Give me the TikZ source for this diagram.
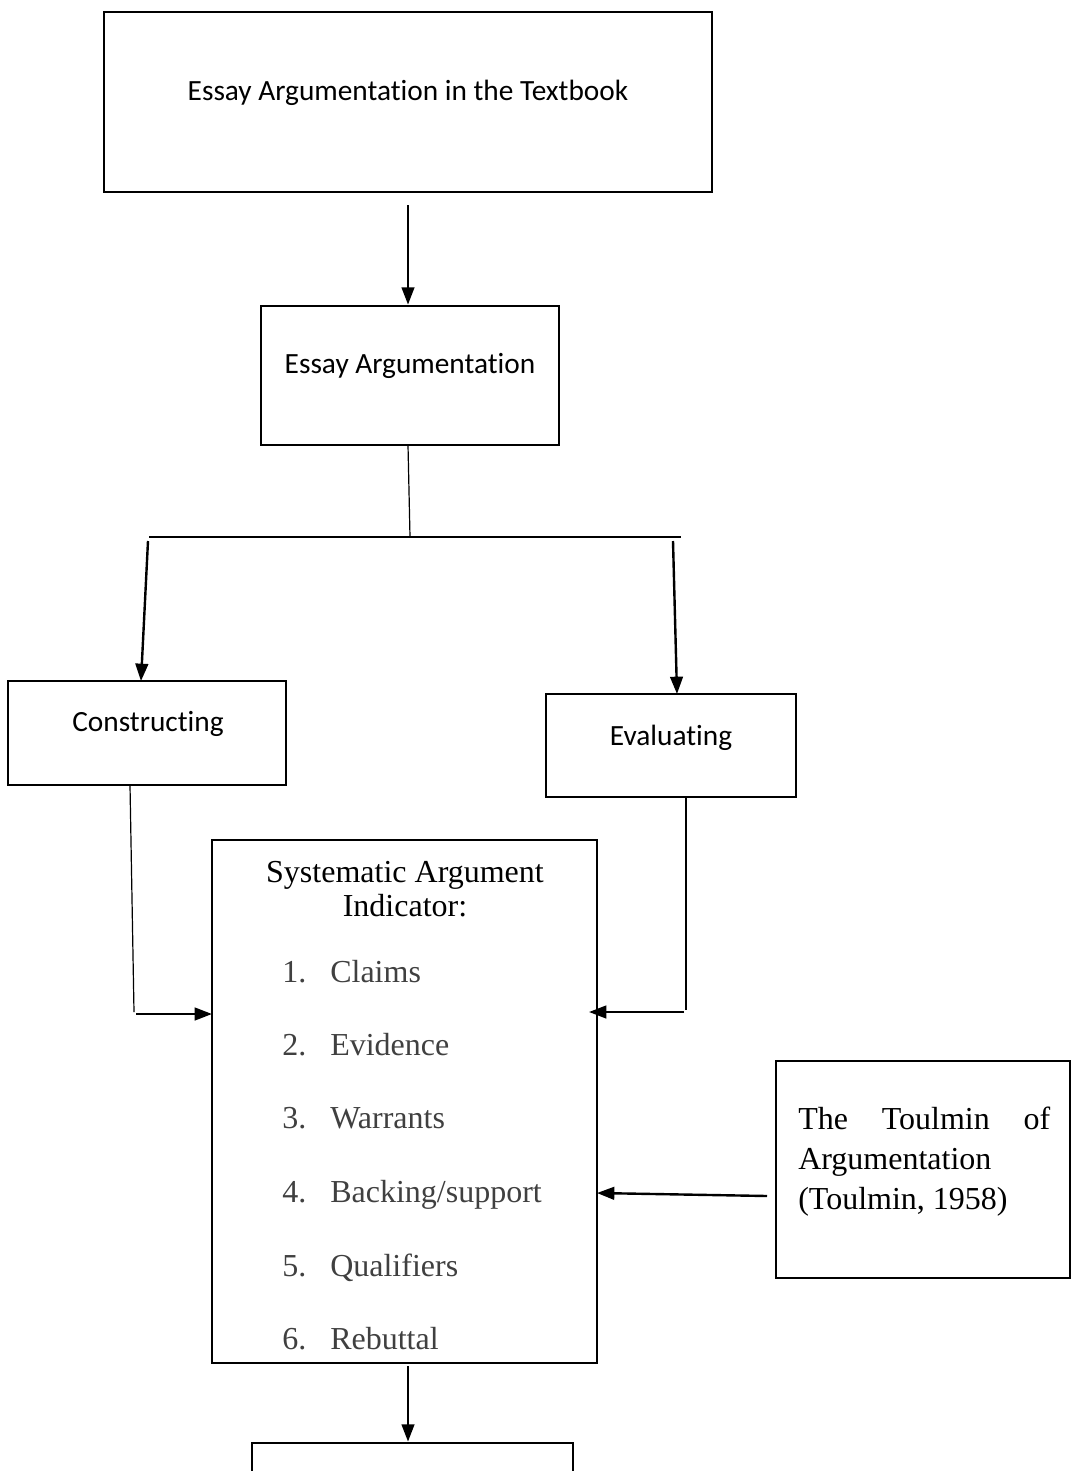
\documentclass[tikz,border=0pt]{standalone}
\usepackage{fontspec}
\setmainfont{Liberation Serif}
\newfontfamily\calfont[Ligatures={NoCommon,NoRare,NoContextual}]{Carlito}
\usetikzlibrary{arrows.meta,fit}
\definecolor{itemgray}{HTML}{404040}
\newcommand{\nl}{\kern0pt }
\begin{document}
\begin{tikzpicture}[x=0.75pt,y=-0.75pt,
  box/.style={draw, line width=2.1pt, inner sep=0pt},
  thin/.style={line width=0.9pt},
  arr/.style={line width=1.8pt, -{Triangle[length=13pt,width=9.5pt]}},
  cal/.style={font=\calfont\fontsize{22pt}{26pt}\selectfont, anchor=base, inner sep=0pt},
  tms/.style={font=\fontsize{24pt}{28pt}\selectfont, anchor=base, inner sep=0pt},
  itm/.style={font=\fontsize{24pt}{28pt}\selectfont, anchor=base west, inner sep=0pt, text=itemgray}]
\clip (0,0) rectangle (1071,1471);
\fill[white] (0,0) rectangle (1071,1471);
% boxes
\node[box, fit={(104,12) (712,192)}] (top) {};
\node[box, fit={(261,306) (559,445)}] (ea) {};
\node[box, fit={(8,681) (286,785)}] (con) {};
\node[box, fit={(546,694) (796,797)}] (eva) {};
\node[box, fit={(212,840) (597,1363)}] (sai) {};
\node[box, fit={(776,1061) (1070,1278)}] (toul) {};
\node[box, fit={(252,1443) (573,1560)}] (last) {};
% texts
\node[cal] (t1) at (408,100) {Essay Argumentat\nl ion in the Textbook};
\node[cal] (t2) at (410,373) {Essay Argumentat\nl ion};
\node[cal] (t3) at (148,731) {Construct\nl ing};
\node[cal] (t4) at (671,745) {Evaluating};
\node[tms] (s1) at (405,882) {Systematic Argument};
\node[tms] (s2) at (405,916) {Indicator:};
\foreach \n/\t/\y in {1/Claims/982, 2/Evidence/1055, 3/Warrants/1128, 4/Backing\slash support/1202, 5/Qualifiers/1276, 6/Rebuttal/1349}{
  \node[itm] (n\n) at (282,\y) {\n.};
  \node[itm] (i\n) at (330,\y) {\t};
}
\node[tms, anchor=base west] (u1) at (798,1129) {\makebox[189pt][s]{The Toulmin of}};
\node[tms, anchor=base west] (u2) at (798,1169) {Argumentation};
\node[tms, anchor=base west] (u3) at (798,1209) {(Toulmin, 1958)};
% connectors
\coordinate (a0) at (408,205);
\coordinate (b1) at (410,537);
\coordinate (hl) at (149,537);
\coordinate (hr) at (681,537);
\coordinate (la) at (148,541);
\coordinate (ra) at (673,541);
\coordinate (z0) at (408,1366);
\draw[arr] (a0) -- (a0 |- ea.north);
\draw[thin] (408,445) -- (b1);
\draw[thin] (hl) -- (hr);
\draw[arr] (la) -- (141,681);
\draw[arr] (ra) -- (677,694);
\coordinate (cb) at (134,1012);
\draw[thin] (130,785) -- (cb);
\draw[arr] (136,1014) -- (212,1014);
\coordinate (eb) at (686,1010);
\draw[thin] (686,797) -- (eb);
\draw[arr] (684,1012) -- (589,1012);
\draw[arr] (767,1196) -- (597,1193);
\draw[arr] (z0) -- (z0 |- last.north);
\end{tikzpicture}
\end{document}
